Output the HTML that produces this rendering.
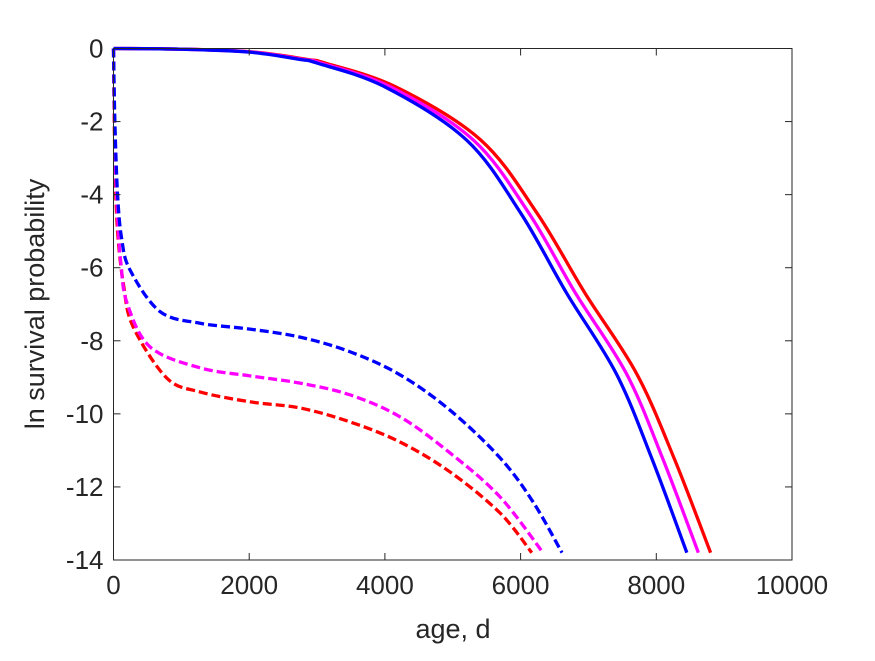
<!DOCTYPE html>
<html><head><meta charset="utf-8"><style>
body{margin:0;background:#fff}
svg text{font-family:"Liberation Sans",Arial,sans-serif;fill:#262626}
</style></head><body>
<svg width="875" height="656" viewBox="0 0 875 656" xmlns="http://www.w3.org/2000/svg">
<rect width="875" height="656" fill="#fff"/>
<g id="plot"></g>
<g id="axes"></g>
</svg>
<script>
const xTicks=[0,2000,4000,6000,8000,10000];
const yTicks=[0,-2,-4,-6,-8,-10,-12,-14];
const solidBlueX=[0,1000,2000,2750,3000,4000,5200,6000,6680,7410,7940,8450];
const solidBlueY=[0,-0.02,-0.1,-0.3,-0.4,-1.05,-2.5,-4.5,-6.7,-8.9,-11.25,-13.8];
const solidMagentaX=[0,1020,2040,2805,3060,4080,5300,6120,6810,7560,8100,8620];
const solidMagentaY=[0,-0.02,-0.1,-0.3,-0.4,-1.05,-2.5,-4.5,-6.7,-8.9,-11.25,-13.8];
const solidRedX=[0,1040,2080,2860,3120,4160,5410,6240,6950,7710,8270,8800];
const solidRedY=[0,-0.02,-0.1,-0.3,-0.4,-1.05,-2.5,-4.5,-6.7,-8.9,-11.25,-13.8];
const dashBlueX=[0,20,60,120,243,685,1275,2010,2750,3485,4222,4960,5695,6180,6610];
const dashBlueY=[0,-2,-4,-5.2,-6.06,-7.2,-7.52,-7.68,-7.9,-8.3,-8.93,-9.9,-11.2,-12.4,-13.8];
const dashMagentaX=[0,20,60,110,200,540,1275,2010,2750,3485,4222,4960,5695,6330];
const dashMagentaY=[0,-2.6,-4.6,-5.9,-6.97,-8.17,-8.74,-8.96,-9.16,-9.48,-10.08,-11.07,-12.27,-13.8];
const dashRedX=[0,20,60,150,290,785,1275,2010,2750,3485,4222,4960,5695,6165];
const dashRedY=[0,-3,-5,-6.5,-7.62,-9.02,-9.4,-9.67,-9.84,-10.22,-10.77,-11.59,-12.71,-13.8];

const X0=113.5,X1=792,Y0=48.5,Y1=560;
const sx=v=>X0+v/10000*(X1-X0);
const sy=v=>Y0-v/14*(Y1-Y0);
const NS="http://www.w3.org/2000/svg";
const plot=document.getElementById('plot'),axes=document.getElementById('axes');
function mk(t,a,p){const e=document.createElementNS(NS,t);for(const k in a)e.setAttribute(k,a[k]);p.appendChild(e);return e;}
function pathD(xs,ys){
  const P=xs.map((x,i)=>[sx(x),sy(ys[i])]);
  let d=`M${P[0][0]},${P[0][1]}`;
  for(let i=0;i<P.length-1;i++){
    const p0=P[Math.max(i-1,0)],p1=P[i],p2=P[i+1],p3=P[Math.min(i+2,P.length-1)];
    const c1=[p1[0]+(p2[0]-p0[0])/6,p1[1]+(p2[1]-p0[1])/6];
    const c2=[p2[0]-(p3[0]-p1[0])/6,p2[1]-(p3[1]-p1[1])/6];
    d+=` C${c1[0]},${c1[1]} ${c2[0]},${c2[1]} ${p2[0]},${p2[1]}`;
  }
  return d;
}
const series=[
 [dashRedX,dashRedY,'#ff0000',true,'dashed-red-curve'],
 [dashMagentaX,dashMagentaY,'#ff00ff',true,'dashed-magenta-curve'],
 [dashBlueX,dashBlueY,'#0000ff',true,'dashed-blue-curve'],
 [solidRedX,solidRedY,'#ff0000',false,'solid-red-curve'],
 [solidMagentaX,solidMagentaY,'#ff00ff',false,'solid-magenta-curve'],
 [solidBlueX,solidBlueY,'#0000ff',false,'solid-blue-curve']
];
series.forEach(s=>{
  const e=mk('path',{d:pathD(s[0],s[1]),fill:'none',stroke:s[2],'stroke-width':3.3},plot);
  if(s[3])e.setAttribute('stroke-dasharray','9 4');
  
  
});
const box=mk('rect',{x:X0,y:Y0,width:X1-X0,height:Y1-Y0,fill:'none',stroke:'#262626','stroke-width':1},axes);


xTicks.forEach(v=>{
  const x=sx(v);
  mk('line',{x1:x,x2:x,y1:Y1,y2:Y1-7,stroke:'#262626'},axes);
  mk('line',{x1:x,x2:x,y1:Y0,y2:Y0+7,stroke:'#262626'},axes);
  const t=mk('text',{x:x,y:Y1+34,'text-anchor':'middle','font-size':26},axes);
  t.textContent=v;
  
  
});
yTicks.forEach(v=>{
  const y=sy(v);
  mk('line',{x1:X0,x2:X0+7,y1:y,y2:y,stroke:'#262626'},axes);
  mk('line',{x1:X1,x2:X1-7,y1:y,y2:y,stroke:'#262626'},axes);
  const t=mk('text',{x:X0-10,y:y+9,'text-anchor':'end','font-size':26},axes);
  t.textContent=v;
  
  
});
const xl=mk('text',{x:453,y:638,'text-anchor':'middle','font-size':27},axes);
xl.textContent='age, d';


const yl=mk('text',{x:0,y:0,'text-anchor':'middle','font-size':27,transform:'translate(44,304) rotate(-90)'},axes);
yl.textContent='ln survival probability';


</script>
</body></html>
